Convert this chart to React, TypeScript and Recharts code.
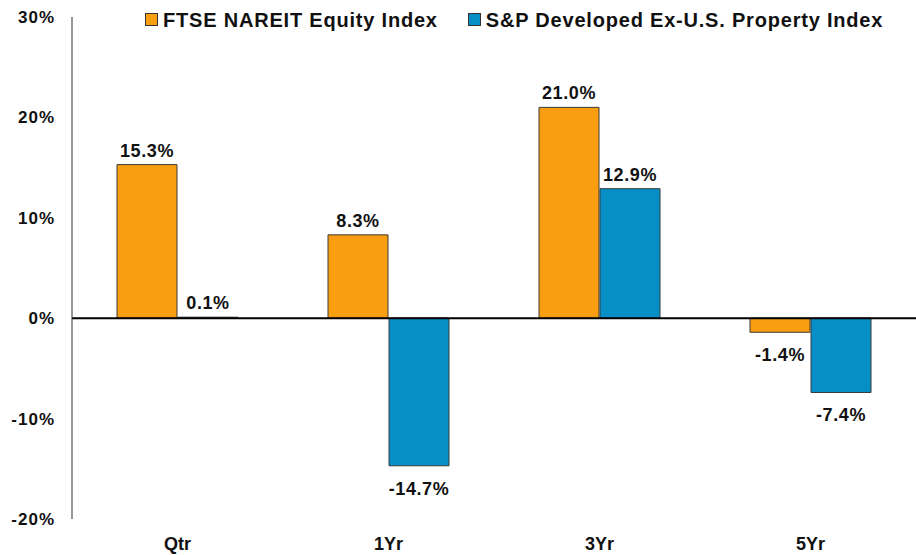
import {
  BarChart,
  Bar,
  XAxis,
  YAxis,
  Legend,
  LabelList,
  ReferenceLine,
} from 'recharts';

const ORANGE = '#F99D11';
const BLUE = '#058FC6';
const FONT = '"Liberation Sans", Arial, sans-serif';

const periods = ['Qtr', '1Yr', '3Yr', '5Yr'];
const nareitReturns = [15.3, 8.3, 21.0, -1.4];
const developedReturns = [0.1, -14.7, 12.9, -7.4];
const yTicks = [-20, -10, 0, 10, 20, 30];

const seriesNames = {
  nareit: 'FTSE NAREIT Equity Index',
  developed: 'S&P Developed Ex-U.S. Property Index',
};

const data = periods.map((period, i) => ({
  period,
  nareit: nareitReturns[i],
  developed: developedReturns[i],
}));

function ValueLabel(props: any) {
  const { x, y, width, height, value } = props;
  const top = Math.min(y, y + height);
  const bottom = Math.max(y, y + height);
  const baseline = value >= 0 ? top - 8 : bottom + 29;
  return (
    <text
      x={x + width / 2}
      y={baseline}
      textAnchor="middle"
      fontFamily={FONT}
      fontWeight="bold"
      fontSize={18}
      letterSpacing={0.6}
      fill="#111"
    >
      {`${Number(value).toFixed(1)}%`}
    </text>
  );
}

function LegendContent() {
  const items = [
    { label: seriesNames.nareit, color: ORANGE },
    { label: seriesNames.developed, color: BLUE },
  ];
  return (
    <div style={{ display: 'flex', alignItems: 'center' }}>
      {items.map((item, i) => (
        <div
          key={item.label}
          style={{
            display: 'flex',
            alignItems: 'center',
            marginLeft: i === 0 ? 0 : 30,
          }}
        >
          <span
            style={{
              display: 'inline-block',
              width: 11,
              height: 11,
              background: item.color,
              border: '1px solid #333',
              marginRight: 5,
              marginTop: -2,
            }}
          />
          <span
            style={{
              fontFamily: FONT,
              fontWeight: 'bold',
              fontSize: 20,
              lineHeight: '20px',
              letterSpacing: 0.8,
              color: '#111',
              whiteSpace: 'nowrap',
            }}
          >
            {item.label}
          </span>
        </div>
      ))}
    </div>
  );
}

export default function App() {
  return (
    <div style={{ position: 'absolute', left: 0, top: 0, background: '#fff' }}>
      <BarChart
        width={916}
        height={555}
        data={data}
        margin={{ top: 17, right: 0, bottom: 0, left: 0 }}
        barSize={60}
        barGap={1}
      >
        <XAxis
          dataKey="period"
          height={36}
          axisLine={false}
          tickLine={false}
          tickSize={0}
          tickMargin={18}
          tick={{
            fontFamily: FONT,
            fontWeight: 'bold',
            fontSize: 18,
            fill: '#111',
          }}
        />
        <YAxis
          width={72}
          domain={[-20, 30]}
          ticks={yTicks}
          interval={0}
          tickFormatter={(v: number) => `${v}%`}
          axisLine={{ stroke: '#333', strokeWidth: 1 }}
          tickLine={false}
          tickSize={0}
          tickMargin={17}
          tick={{
            fontFamily: FONT,
            fontWeight: 'bold',
            fontSize: 17,
            letterSpacing: 1,
            fill: '#111',
          }}
        />
        <Legend
          layout="horizontal"
          verticalAlign="middle"
          align="center"
          content={<LegendContent />}
          wrapperStyle={{ top: 10, left: 145, width: 760 }}
        />
        <Bar
          dataKey="nareit"
          name={seriesNames.nareit}
          fill={ORANGE}
          stroke="#3a3a3a"
          strokeWidth={1}
          isAnimationActive={false}
        >
          <LabelList dataKey="nareit" content={ValueLabel} />
        </Bar>
        <Bar
          dataKey="developed"
          name={seriesNames.developed}
          fill={BLUE}
          stroke="#3a3a3a"
          strokeWidth={1}
          isAnimationActive={false}
        >
          <LabelList dataKey="developed" content={ValueLabel} />
        </Bar>
        <ReferenceLine y={0} stroke="#000" strokeWidth={2} />
      </BarChart>
    </div>
  );
}
